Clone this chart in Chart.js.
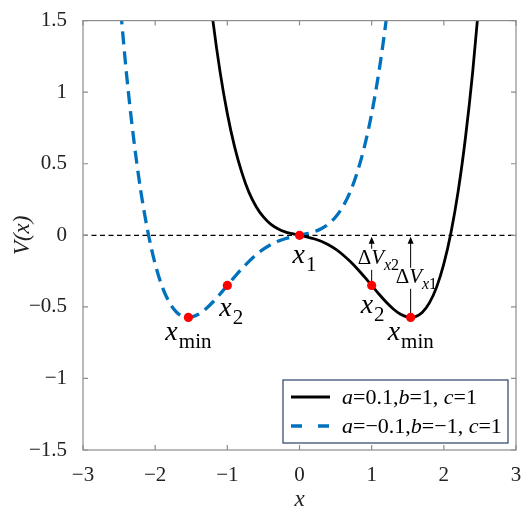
<!DOCTYPE html>
<html>
<head>
<meta charset="utf-8">
<script src="https://cdn.jsdelivr.net/npm/chart.js@4.4.1/dist/chart.umd.min.js"></script>
<style>
  html, body { margin: 0; padding: 0; background: #fff; }
  #wrap { width: 530px; height: 517px; position: relative; }
</style>
</head>
<body>
<div id="wrap"><canvas id="potChart"></canvas></div>
<script>
// curve samples
const xBlack = [-1.3, -1.2, -1.1, -1.0, -0.9, -0.8, -0.7, -0.6, -0.5, -0.4, -0.3, -0.2, -0.1, 0,
  0.1, 0.2, 0.3, 0.4, 0.5, 0.6, 0.7, 0.8, 0.9, 1.0, 1.1, 1.2, 1.3, 1.4, 1.5, 1.54,
  1.6, 1.7, 1.8, 1.9, 2.0, 2.1, 2.2, 2.3, 2.4, 2.5];
const vBlack = [1.94, 1.50, 1.14, 0.85, 0.62, 0.44, 0.30, 0.20, 0.128, 0.078, 0.046, 0.024, 0.011, 0,
  -0.011, -0.024, -0.042, -0.066, -0.097, -0.136, -0.182, -0.234, -0.291, -0.35, -0.410, -0.466, -0.515, -0.552, -0.572, -0.574,
  -0.570, -0.539, -0.472, -0.362, -0.20, 0.022, 0.312, 0.683, 1.142, 1.703];

const xBlue = [-2.5, -2.4, -2.3, -2.2, -2.1, -2.0, -1.9, -1.8, -1.7, -1.6, -1.54, -1.5, -1.4, -1.3,
  -1.2, -1.1, -1.0, -0.9, -0.8, -0.7, -0.6, -0.5, -0.4, -0.3, -0.2, -0.1, 0,
  0.1, 0.2, 0.3, 0.4, 0.5, 0.6, 0.7, 0.8, 0.9, 1.0, 1.1, 1.2, 1.3];
const vBlue = [1.703, 1.142, 0.683, 0.312, 0.022, -0.20, -0.362, -0.472, -0.539, -0.570, -0.574, -0.572, -0.552, -0.515,
  -0.466, -0.410, -0.35, -0.291, -0.234, -0.182, -0.136, -0.097, -0.066, -0.042, -0.024, -0.011, 0,
  0.011, 0.024, 0.046, 0.078, 0.128, 0.20, 0.30, 0.44, 0.62, 0.85, 1.14, 1.50, 1.94];

// marked points (red dots) and their labels
const markX = [0, 1, 1.54, -1, -1.54];
const markV = [0, -0.35, -0.574, -0.35, -0.574];
const markSub = ['1', '2', 'min', '2', 'min'];
const markOffset = [[-7, 27.5], [-11, 28], [-23, 23], [-8, 31], [-23, 23]];

// depth arrows: from the marked point up to V = 0
const arrowX = [1, 1.54];
const arrowV = [-0.35, -0.574];
const arrowSub = ['2', '1'];
const arrowOffset = [[-14, 28.5], [-15, 47.5]];

const legendRows = [
  [['a', 1], ['=0.1,', 0], ['b', 1], ['=1, ', 0], ['c', 1], ['=1', 0]],
  [['a', 1], ['=\u22120.1,', 0], ['b', 1], ['=\u22121, ', 0], ['c', 1], ['=1', 0]]
];

const BLUE = '#0072BD';
const SERIF = '"Liberation Serif"';
const minus = v => String(v).replace('-', '\u2212');

function subText(ctx, left, base, main, sub, mainPx, subPx, subDy) {
  ctx.font = 'italic ' + mainPx + 'px ' + SERIF;
  ctx.fillText(main, left, base);
  const w = ctx.measureText(main).width;
  ctx.font = subPx + 'px ' + SERIF;
  ctx.fillText(sub, left + w + 1, base + subDy);
}

// widths of the pieces of a ΔV_xn label
function deltaParts(ctx, sub) {
  ctx.font = '21px ' + SERIF;
  const wD = ctx.measureText('\u0394').width;
  ctx.font = 'italic 21px ' + SERIF;
  const wV = ctx.measureText('V').width;
  ctx.font = 'italic 16px ' + SERIF;
  const wx = ctx.measureText('x').width;
  ctx.font = '16px ' + SERIF;
  const ws = ctx.measureText(sub).width;
  return {wD, wV, wx, ws, total: wD + wV + wx + ws};
}

const annotate = {
  id: 'annotate',
  beforeDatasetsDraw(chart) {
    const {ctx, scales: {x, y}} = chart;
    const y0 = y.getPixelForValue(0);
    ctx.save();
    arrowX.forEach((ax, i) => {
      const px = x.getPixelForValue(ax);
      const py = y.getPixelForValue(arrowV[i]);
      const tip = y0 + 1.5;
      ctx.strokeStyle = '#000';
      ctx.lineWidth = 1;
      ctx.beginPath();
      ctx.moveTo(px, py);
      ctx.lineTo(px, tip + 5);
      ctx.stroke();
      ctx.fillStyle = '#000';
      ctx.beginPath();
      ctx.moveTo(px, tip);
      ctx.lineTo(px - 3, tip + 7);
      ctx.lineTo(px + 3, tip + 7);
      ctx.closePath();
      ctx.fill();
      // white patch behind the label
      const p = deltaParts(ctx, arrowSub[i]);
      const left = px + arrowOffset[i][0];
      const base = y0 + arrowOffset[i][1];
      ctx.fillStyle = '#fff';
      ctx.fillRect(left - 1, base - 15, p.total + 3, 21);
    });
    ctx.restore();
  },
  afterDatasetsDraw(chart) {
    const {ctx, chartArea: a, scales: {x, y}} = chart;
    const y0 = y.getPixelForValue(0);
    ctx.save();
    ctx.fillStyle = '#000';
    ctx.textBaseline = 'alphabetic';
    ctx.textAlign = 'left';

    // ΔV labels
    arrowX.forEach((ax, i) => {
      const px = x.getPixelForValue(ax);
      const left = px + arrowOffset[i][0];
      const base = y0 + arrowOffset[i][1];
      const p = deltaParts(ctx, arrowSub[i]);
      ctx.font = '21px ' + SERIF;
      ctx.fillText('\u0394', left, base);
      ctx.font = 'italic 21px ' + SERIF;
      ctx.fillText('V', left + p.wD, base);
      ctx.font = 'italic 16px ' + SERIF;
      ctx.fillText('x', left + p.wD + p.wV, base + 6);
      ctx.font = '16px ' + SERIF;
      ctx.fillText(arrowSub[i], left + p.wD + p.wV + p.wx, base + 6);
    });

    // point labels
    markX.forEach((mx, i) => {
      const px = x.getPixelForValue(mx) + markOffset[i][0];
      const py = y.getPixelForValue(markV[i]) + markOffset[i][1];
      subText(ctx, px, py, 'x', markSub[i], 28, 21, 8);
    });

    // box and inward ticks on all sides
    ctx.strokeStyle = '#8c8c8c';
    ctx.lineWidth = 1.2;
    ctx.strokeRect(a.left, a.top, a.right - a.left, a.bottom - a.top);
    ctx.beginPath();
    x.ticks.forEach(t => {
      const px = x.getPixelForValue(t.value);
      ctx.moveTo(px, a.bottom); ctx.lineTo(px, a.bottom - 5);
      ctx.moveTo(px, a.top); ctx.lineTo(px, a.top + 5);
    });
    y.ticks.forEach(t => {
      const py = y.getPixelForValue(t.value);
      ctx.moveTo(a.left, py); ctx.lineTo(a.left + 5, py);
      ctx.moveTo(a.right, py); ctx.lineTo(a.right - 5, py);
    });
    ctx.stroke();
    ctx.restore();
  },
  afterDraw(chart) {
    const {ctx, chartArea: a} = chart;
    const bw = 225, bh = 63;
    const bx = a.right - 8 - bw, by = a.bottom - 7 - bh;
    ctx.save();
    ctx.fillStyle = '#fff';
    ctx.fillRect(bx, by, bw, bh);
    ctx.strokeStyle = '#2c3e6b';
    ctx.lineWidth = 1.2;
    ctx.strokeRect(bx, by, bw, bh);

    const rowsY = [by + 17, by + 46];
    // sample lines
    ctx.lineWidth = 3;
    ctx.strokeStyle = '#000';
    ctx.beginPath(); ctx.moveTo(bx + 8, rowsY[0]); ctx.lineTo(bx + 47, rowsY[0]); ctx.stroke();
    ctx.strokeStyle = BLUE;
    ctx.lineWidth = 3.3;
    ctx.setLineDash([11, 16]);
    ctx.beginPath(); ctx.moveTo(bx + 8, rowsY[1]); ctx.lineTo(bx + 47, rowsY[1]); ctx.stroke();
    ctx.setLineDash([]);

    ctx.fillStyle = '#000';
    ctx.textBaseline = 'alphabetic';
    legendRows.forEach((row, r) => {
      let cx = bx + 59;
      row.forEach(([txt, it]) => {
        ctx.font = (it ? 'italic ' : '') + '22px ' + SERIF;
        ctx.fillText(txt, cx, rowsY[r] + 7);
        cx += ctx.measureText(txt).width;
      });
    });
    ctx.restore();
  }
};

const pts = (xs, vs) => xs.map((v, i) => ({x: v, y: vs[i]}));

new Chart(document.getElementById('potChart'), {
  type: 'line',
  data: {
    datasets: [
      {
        data: pts(markX, markV),
        showLine: false,
        pointRadius: 4.6,
        pointBackgroundColor: '#ff0000',
        pointBorderWidth: 0
      },
      {
        data: pts(xBlack, vBlack),
        borderColor: '#000',
        borderWidth: 2.8,
        pointRadius: 0,
        cubicInterpolationMode: 'monotone',
        clip: 0
      },
      {
        data: pts(xBlue, vBlue),
        borderColor: BLUE,
        borderWidth: 3.3,
        borderDash: [13, 7],
        pointRadius: 0,
        cubicInterpolationMode: 'monotone',
        clip: 0
      },
      {
        data: [{x: -3, y: 0}, {x: 3, y: 0}],
        borderColor: '#000',
        borderWidth: 1.2,
        borderDash: [5, 3.5],
        pointRadius: 0,
        clip: 0
      }
    ]
  },
  options: {
    responsive: true,
    maintainAspectRatio: false,
    animation: false,
    events: [],
    layout: { padding: { top: 19, right: 14, left: 0, bottom: 0 } },
    plugins: { legend: { display: false }, tooltip: { enabled: false } },
    scales: {
      x: {
        type: 'linear',
        min: -3, max: 3,
        grid: { display: false },
        border: { display: false },
        afterFit: s => { s.height = 67; },
        ticks: {
          stepSize: 1,
          padding: 5,
          color: '#222',
          font: { family: SERIF, size: 21 },
          callback: v => minus(v)
        },
        title: {
          display: true,
          text: 'x',
          color: '#222',
          padding: { top: 0, bottom: 3 },
          font: { family: SERIF, size: 23, style: 'italic' }
        }
      },
      y: {
        min: -1.5, max: 1.5,
        grid: { display: false },
        border: { display: false },
        afterFit: s => { s.width = 83; },
        ticks: {
          stepSize: 0.5,
          padding: 8,
          color: '#222',
          font: { family: SERIF, size: 21 },
          callback: v => minus(v)
        },
        title: {
          display: true,
          text: 'V(x)',
          color: '#222',
          padding: { top: 9, bottom: 0 },
          font: { family: SERIF, size: 23, style: 'italic' }
        }
      }
    }
  },
  plugins: [annotate]
});
</script>
</body>
</html>
